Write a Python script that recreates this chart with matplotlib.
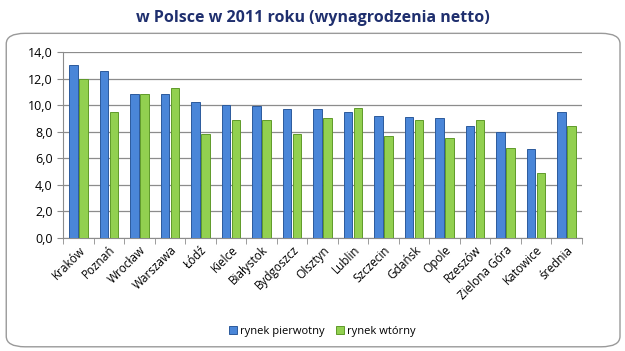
import matplotlib
matplotlib.use("Agg")
import matplotlib.pyplot as plt
from matplotlib.patches import FancyBboxPatch
import numpy as np

# data
cities = ["Kraków", "Poznań", "Wrocław", "Warszawa", "Łódź", "Kielce", "Białystok",
          "Bydgoszcz", "Olsztyn", "Lublin", "Szczecin", "Gdańsk", "Opole", "Rzeszów",
          "Zielona Góra", "Katowice", "średnia"]
rynek_pierwotny = [13.0, 12.6, 10.8, 10.8, 10.2, 10.0, 9.9, 9.7, 9.7, 9.5, 9.2, 9.1,
                   9.0, 8.4, 8.0, 6.7, 9.5]
rynek_wtorny = [12.0, 9.5, 10.8, 11.3, 7.8, 8.9, 8.9, 7.8, 9.0, 9.8, 7.7, 8.9,
                7.5, 8.9, 6.8, 4.9, 8.4]
yticks = np.arange(0, 14.1, 2)

plt.rcParams['font.family'] = ['Open Sans', 'DejaVu Sans']

fig = plt.figure(figsize=(6.25, 3.51), dpi=100)
fig.patch.set_facecolor("white")

# rounded frame around the chart
frame = FancyBboxPatch((0.01, 0.012), 0.982, 0.893, boxstyle="round,pad=0,rounding_size=0.03",
                       transform=fig.transFigure, facecolor="white", edgecolor="#9a9a9a",
                       linewidth=1.0, zorder=-1)
fig.patches.append(frame)

fig.text(0.5, 0.948, "w Polsce w 2011 roku (wynagrodzenia netto)", ha="center", va="center",
         fontsize=11.5, fontweight="bold", color="#1f2f6e")

ax = fig.add_axes([0.101, 0.322, 0.83, 0.53])
ax.patch.set_alpha(0)
x = np.arange(len(cities))
w = 0.28
ax.bar(x - w / 2 - 0.02, rynek_pierwotny, w, color="#4a86d8", edgecolor="#2c5a9c",
       linewidth=0.7, label="rynek pierwotny", zorder=3)
ax.bar(x + w / 2 + 0.02, rynek_wtorny, w, color="#92d050", edgecolor="#5f9a2a",
       linewidth=0.7, label="rynek wtórny", zorder=3)

ax.set_xlim(-0.5, len(cities) - 0.5)
ax.set_ylim(0, 14)
ax.set_yticks(yticks)
ax.set_yticklabels([f"{v:.1f}".replace(".", ",") for v in yticks], fontsize=9)
ax.yaxis.grid(True, color="#8c8c8c", linewidth=0.9, zorder=0)
ax.set_axisbelow(True)

ax.set_xticks(x)
ax.set_xticklabels(cities, rotation=45, ha="right", rotation_mode="anchor", fontsize=8.5)
ax.set_xticks(np.arange(-0.5, len(cities)), minor=True)
ax.tick_params(axis="x", which="major", length=0, pad=4)
ax.tick_params(axis="x", which="minor", length=4, color="#8c8c8c")
ax.tick_params(axis="y", length=4, color="#8c8c8c")

for s in ["top", "right"]:
    ax.spines[s].set_visible(False)
for s in ["left", "bottom"]:
    ax.spines[s].set_color("#8c8c8c")

ax.legend(loc="upper center", bbox_to_anchor=(0.5, -0.42), ncol=2, frameon=False,
          fontsize=8, handlelength=0.7, handleheight=0.7, columnspacing=1.0,
          handletextpad=0.3)

fig.savefig("out.png", dpi=100)
